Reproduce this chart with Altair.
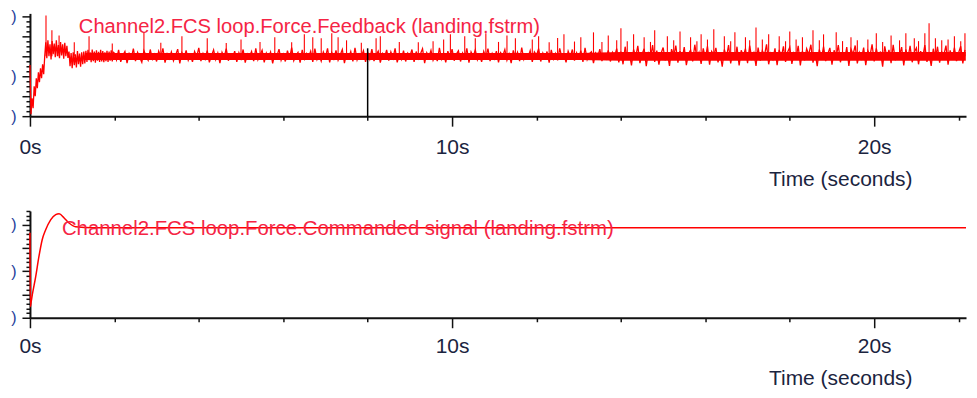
import altair as alt
import pandas as pd

# ---------------- data ----------------
X_MAX = 22.175

# Top panel: Force feedback (noisy). Early transient, sampled every 0.025 s
early_v = [1.28, 0.05,
           0.45, 0.20, 0.75, 0.50, 0.95, 0.70, 1.10, 0.85, 1.20, 0.95, 1.30, 1.05, 1.50,
           1.85, 1.45, 1.90, 1.50, 1.80, 1.42, 1.88, 1.55, 1.82, 1.48, 1.90, 1.50, 1.78, 1.45,
           1.86, 1.52, 1.80, 1.44, 1.84, 1.50, 1.76, 1.46,
           1.62, 1.25, 1.58, 1.20, 1.60, 1.28, 1.55, 1.22, 1.63, 1.30, 1.57, 1.24, 1.60, 1.30,
           1.62, 1.32,
           1.64, 1.36, 1.66, 1.40, 1.60, 1.35, 1.67, 1.38, 1.62, 1.34, 1.65, 1.39, 1.61, 1.36,
           1.66, 1.37, 1.63, 1.35, 1.60, 1.38, 1.64, 1.36, 1.62, 1.39, 1.65, 1.37, 1.60]
early_t = [round(0.025 * i, 3) for i in range(len(early_v))]

# steady part, every 0.05 s from 2.0 s
band_v = [
    1.58, 1.41, 1.66, 1.36, 1.52, 1.62, 1.33, 1.57, 1.45, 1.69, 1.38, 1.60, 1.47, 1.35, 1.64, 1.50, 1.40, 1.67, 1.43, 1.55,
    1.37, 1.63, 1.48, 1.70, 1.34, 1.56, 1.44, 1.61, 1.39, 1.53, 1.68, 1.32, 1.59, 1.46, 1.65, 1.40, 1.54, 1.36, 1.62, 1.49,
    1.71, 1.38, 1.57, 1.43, 1.64, 1.35, 1.51, 1.66, 1.42, 1.58, 1.33, 1.60, 1.47, 1.69, 1.39, 1.55, 1.45, 1.63, 1.36, 1.59,
    1.44, 1.67, 1.34, 1.56, 1.49, 1.62, 1.38, 1.70, 1.41, 1.53, 1.65, 1.35, 1.58, 1.46, 1.61, 1.32, 1.57, 1.50, 1.68, 1.40,
    1.55, 1.37, 1.64, 1.45, 1.72, 1.39, 1.52, 1.60, 1.34, 1.66, 1.43, 1.57, 1.48, 1.63, 1.36, 1.69, 1.42, 1.54, 1.38, 1.61,
    1.47, 1.70, 1.35, 1.59, 1.44, 1.65, 1.40, 1.53, 1.67, 1.33, 1.58, 1.46, 1.62, 1.37, 1.71, 1.41, 1.56, 1.49, 1.64, 1.36,
    1.60, 1.43, 1.68, 1.38, 1.54, 1.63, 1.34, 1.57, 1.47, 1.66, 1.39, 1.61, 1.45, 1.70, 1.35, 1.55, 1.42, 1.64, 1.37, 1.58,
    1.50, 1.67, 1.36, 1.62, 1.44, 1.56, 1.69, 1.33, 1.59, 1.48, 1.65, 1.40, 1.53, 1.38, 1.71, 1.43, 1.57, 1.35, 1.63, 1.46,
    1.68, 1.39, 1.55, 1.64, 1.37, 1.58, 1.45, 1.70, 1.34, 1.61, 1.49, 1.66, 1.41, 1.54, 1.36, 1.62, 1.47, 1.69, 1.38, 1.57,
    1.44, 1.63, 1.35, 1.59, 1.51, 1.67, 1.40, 1.56, 1.33, 1.65, 1.46, 1.60, 1.38, 1.72, 1.42, 1.55, 1.48, 1.64, 1.36, 1.61,
    1.53, 1.69, 1.37, 1.58, 1.45, 1.62, 1.34, 1.66, 1.43, 1.57, 1.40, 1.70, 1.47, 1.54, 1.35, 1.63, 1.49, 1.67, 1.39, 1.59,
    1.46, 1.64, 1.36, 1.71, 1.42, 1.56, 1.61, 1.33, 1.58, 1.48, 1.68, 1.38, 1.55, 1.44, 1.65, 1.37, 1.60, 1.50, 1.69, 1.35,
    1.62, 1.30, 1.74, 1.42, 1.58, 1.27, 1.67, 1.48, 1.76, 1.33, 1.55, 1.69, 1.25, 1.61, 1.45, 1.78, 1.36, 1.64, 1.29, 1.57,
    1.72, 1.40, 1.59, 1.26, 1.68, 1.50, 1.77, 1.34, 1.63, 1.43, 1.73, 1.28, 1.56, 1.66, 1.37, 1.79, 1.46, 1.60, 1.31, 1.70,
    1.44, 1.75, 1.29, 1.62, 1.53, 1.71, 1.35, 1.58, 1.24, 1.67, 1.47, 1.78, 1.32, 1.60, 1.41, 1.74, 1.27, 1.65, 1.50, 1.69,
    1.33, 1.77, 1.45, 1.59, 1.26, 1.72, 1.39, 1.64, 1.52, 1.80, 1.30, 1.57, 1.43, 1.70, 1.28, 1.66, 1.48, 1.75, 1.36, 1.61,
    1.73, 1.31, 1.58, 1.46, 1.76, 1.27, 1.63, 1.40, 1.69, 1.54, 1.79, 1.34, 1.60, 1.25, 1.67, 1.44, 1.74, 1.38, 1.56, 1.71,
    1.29, 1.65, 1.49, 1.78, 1.35, 1.61, 1.42, 1.73, 1.26, 1.68, 1.55, 1.77, 1.32, 1.59, 1.45, 1.72, 1.28, 1.64, 1.51, 1.80,
    1.37, 1.70, 1.43, 1.62, 1.24, 1.75, 1.47, 1.66, 1.33, 1.79, 1.40, 1.58, 1.52, 1.73, 1.27, 1.67, 1.44, 1.76, 1.35, 1.60,
    1.71, 1.30, 1.63, 1.48, 1.78, 1.36, 1.57, 1.26, 1.69, 1.45, 1.74, 1.34, 1.61, 1.53, 1.77, 1.29, 1.65, 1.41, 1.72, 1.38,
    1.59, 1.75, 1.32, 1.66]
band_t = [round(2.0 + 0.05 * i, 3) for i in range(len(band_v))]

# dense core of the noise band
core_t = [1.3, 2, 3, 4, 5, 6, 7, 8, 9, 10, 11, 12, 13, 14, 15, 16, 17, 18, 19, 20, 21, 22, 22.17]
core_lo = [1.41] * 13 + [1.39] * 10
core_hi = [1.58] * 13 + [1.61] * 10

# spikes above the band
spike_t = [0.38, 0.52, 0.69, 1.05, 1.40, 1.95, 2.70, 3.10, 3.60, 4.20, 4.65, 5.00, 5.45, 5.80,
           6.20, 6.50, 6.70, 6.90, 7.15, 7.30, 7.50, 7.85, 8.20, 8.30, 8.75, 9.20, 9.55, 9.80,
           9.96, 10.30, 10.55, 10.80, 11.10, 11.30, 11.50, 11.90, 12.05, 12.30, 12.50, 12.65,
           12.90, 13.05, 13.35, 13.55, 13.70, 13.90, 14.00, 14.15, 14.30, 14.55, 14.70, 14.80,
           15.10, 15.25, 15.40, 15.65, 15.80, 15.90, 16.05, 16.20, 16.45, 16.60, 16.70, 16.95,
           17.05, 17.20, 17.35, 17.50, 17.75, 17.90, 18.00, 18.15, 18.30, 18.55, 18.70, 18.80,
           19.10, 19.25, 19.45, 19.60, 19.85, 20.05, 20.20, 20.40, 20.60, 20.75, 20.95, 21.05,
           21.20, 21.30, 21.45, 21.60, 21.75, 21.90, 22.05, 22.15]
spike_v = [2.52, 2.15, 2.02, 1.85, 2.00, 1.82, 2.10, 1.84, 2.00, 1.95, 1.83, 1.92, 1.86, 1.98,
           1.85, 2.05, 1.98, 1.95, 2.08, 1.98, 1.90, 1.84, 1.95, 2.00, 1.86, 1.85, 1.88, 1.92,
           2.05, 2.00, 1.95, 2.08, 1.86, 2.02, 1.95, 1.92, 2.00, 1.85, 1.96, 2.05,
           1.87, 1.98, 2.10, 1.86, 2.02, 1.90, 2.20, 1.88, 2.05, 1.98, 1.86, 2.15,
           2.00, 1.90, 2.12, 1.98, 1.88, 2.05, 1.92, 2.18, 2.00, 1.88, 2.10, 1.98,
           1.90, 2.22, 1.92, 2.05, 2.00, 1.88, 2.12, 1.92, 1.98, 2.15, 1.90, 2.05,
           2.10, 1.88, 1.98, 1.90, 1.92, 2.08, 1.86, 2.02, 1.90, 2.08, 1.95, 1.88,
           2.08, 2.33, 1.95, 1.90, 1.92, 2.00, 1.88, 2.08]
spike_base = 1.5

cursor_t = [8.0]
cursor_v = [1.70]

# Bottom panel: commanded signal (smooth)
cmd_t = [0.0, 0.01, 0.03, 0.055, 0.135, 0.213, 0.29, 0.37, 0.49, 0.61, 0.69, 0.81, 0.925,
         1.08, 1.5, 22.175]
cmd_v = [1.83, 0.24, 0.35, 0.49, 0.88, 1.32, 1.68, 1.89, 2.11, 2.22, 2.24, 2.15, 2.04,
         1.96, 1.94, 1.94]

x_ticks = [0, 2, 4, 6, 8, 10, 12, 14, 16, 18, 20, 22]
top_y_ticks = [0.125 * i for i in range(21)]
bot_y_ticks = [round(0.1 * i, 1) for i in range(24)]

top_title = "Channel2.FCS loop.Force.Feedback (landing.fstrm)"
bot_title = "Channel2.FCS loop.Force.Commanded signal (landing.fstrm)"

# ---------------- styling ----------------
RED = "#ff0000"
TXT_RED = "#f52444"
AX = "#111111"
LBL = "#1b2440"
FONT = "Liberation Sans"


def x_axis(base_y, title_y):
    return alt.Axis(
        values=x_ticks,
        labelExpr="datum.value % 10 === 0 ? datum.value + 's' : ''",
        tickSize=alt.condition("datum.value % 10 === 0", alt.value(10), alt.value(4)),
        tickColor=AX, tickWidth=1.5, domainColor=AX, domainWidth=2,
        labelFont=FONT, labelFontSize=21, labelColor=LBL,
        labelBaseline="alphabetic", labelPadding=base_y - 10,
        labelFlush=False, labelOverlap=False, grid=False,
        title="Time (seconds)", titleFont=FONT, titleFontSize=21,
        titleFontWeight="normal", titleColor=LBL, titleX=812, titleY=title_y,
        titleAlign="center", titleBaseline="alphabetic",
    )


def y_axis(vals, major_test, label_test):
    return alt.Axis(
        values=vals,
        labelExpr=f"({label_test}) ? ')' : ''",
        tickSize=alt.condition(major_test, alt.value(8), alt.value(4)),
        tickColor=AX, tickWidth=1.5, domainColor=AX, domainWidth=2,
        labelFont=FONT, labelFontSize=16, labelColor="#26409a",
        labelPadding=6, labelFlush=False, labelOverlap=False, grid=False, title=None,
    )


xs = alt.Scale(domain=[0, X_MAX], nice=False, zero=False)

# ---------------- top panel ----------------
top_ys = alt.Scale(domain=[0, 2.575], nice=False)
top_x = alt.X("t:Q", scale=xs, axis=x_axis(37, 69))
top_y = alt.Y("v:Q", scale=top_ys,
              axis=y_axis(top_y_ticks, "datum.value % 0.5 === 0",
                          "datum.value === 0 || datum.value === 1 || datum.value === 2.5"))

line_df = pd.DataFrame({"t": early_t + band_t, "v": early_v + band_v})
core_df = pd.DataFrame({"t": core_t, "v": core_lo, "v2": core_hi})
spike_df = pd.DataFrame({"t": spike_t, "v": spike_v, "v2": [spike_base] * len(spike_t)})
cursor_df = pd.DataFrame({"t": cursor_t, "v": [0.0], "v2": cursor_v})

core = alt.Chart(core_df).mark_area(color=RED, opacity=1).encode(
    x=top_x, y=top_y, y2="v2:Q")
line = alt.Chart(line_df).mark_line(color=RED, strokeWidth=1.3).encode(
    x=top_x, y=top_y, order="t:Q")
spikes = alt.Chart(spike_df).mark_rule(color=RED, strokeWidth=1.1).encode(
    x=top_x, y=top_y, y2="v2:Q")
cursor = alt.Chart(cursor_df).mark_rule(color="#000000", strokeWidth=1.5).encode(
    x=top_x, y=top_y, y2="v2:Q")
txt_top = alt.Chart(pd.DataFrame({"label": [top_title]})).mark_text(
    align="left", baseline="middle", font=FONT, fontSize=20.2, color=TXT_RED
).encode(text="label:N", x=alt.value(49), y=alt.value(14))

top = alt.layer(core, line, spikes, cursor, txt_top).properties(width=938, height=103)

# ---------------- bottom panel ----------------
bot_ys = alt.Scale(domain=[0, 2.3], nice=False)
bot_x = alt.X("t:Q", scale=xs, axis=x_axis(35, 67))
bot_y = alt.Y("v:Q", scale=bot_ys,
              axis=y_axis(bot_y_ticks,
                          "abs(datum.value * 2 - round(datum.value * 2)) < 0.001",
                          "abs(datum.value - round(datum.value)) < 0.001"))

cmd_df = pd.DataFrame({"t": cmd_t, "v": cmd_v})
cmd_line = alt.Chart(cmd_df).mark_line(color=RED, strokeWidth=1.5, interpolate="monotone").encode(
    x=bot_x, y=bot_y, order="t:Q")
txt_bot = alt.Chart(pd.DataFrame({"label": [bot_title]})).mark_text(
    align="left", baseline="middle", font=FONT, fontSize=20.4, color=TXT_RED
).encode(text="label:N", x=alt.value(32), y=alt.value(18))

bottom = alt.layer(cmd_line, txt_bot).properties(width=938, height=107)

chart = alt.vconcat(top, bottom, spacing=14).properties(
    padding={"left": 2, "top": 0, "right": 0, "bottom": 0},
    background="white",
).configure_view(stroke=None)

chart.save("out.html", embed_options={"renderer": "svg", "actions": False})
